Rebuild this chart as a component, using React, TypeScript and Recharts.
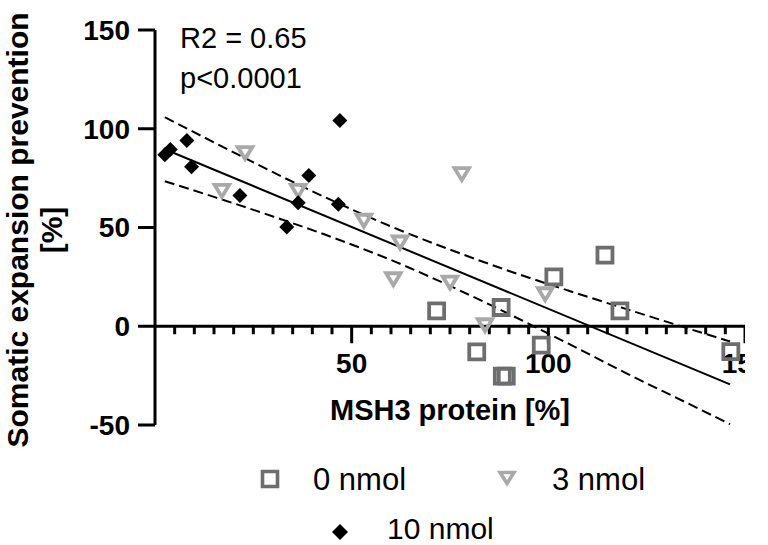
import React from 'react';
import { ComposedChart, Scatter, Line, XAxis, YAxis, ReferenceLine, Legend } from 'recharts';

// ---- data ----
const zeroNmol = [
  { x: 71.6, y: 7.8 },
  { x: 81.8, y: -13.0 },
  { x: 88.0, y: 9.5 },
  { x: 88.3, y: -25.3 },
  { x: 89.3, y: -25.3 },
  { x: 98.2, y: -9.6 },
  { x: 101.4, y: 25.0 },
  { x: 114.4, y: 36.0 },
  { x: 118.2, y: 7.8 },
  { x: 146.4, y: -12.8 },
];

const threeNmol = [
  { x: 17.0, y: 68.0 },
  { x: 22.9, y: 87.2 },
  { x: 36.4, y: 68.0 },
  { x: 53.1, y: 52.9 },
  { x: 60.6, y: 23.3 },
  { x: 62.3, y: 41.9 },
  { x: 75.0, y: 21.6 },
  { x: 78.0, y: 76.5 },
  { x: 83.9, y: 0.0 },
  { x: 99.2, y: 15.7 },
];

const tenNmol = [
  { x: 2.5, y: 86.8 },
  { x: 3.9, y: 89.5 },
  { x: 8.1, y: 94.0 },
  { x: 9.3, y: 80.7 },
  { x: 21.6, y: 66.2 },
  { x: 33.5, y: 50.3 },
  { x: 36.4, y: 62.5 },
  { x: 39.1, y: 76.3 },
  { x: 46.6, y: 61.8 },
  { x: 47.0, y: 104.2 },
];

const regressionLine = [
  { x: 2.5, y: 89.6 },
  { x: 146.2, y: -29.4 },
];

const upperBand = [
  { x: 2.5, y: 105.8 },
  { x: 15, y: 93.1 },
  { x: 30, y: 78.0 },
  { x: 45, y: 63.7 },
  { x: 61, y: 49.7 },
  { x: 75, y: 38.8 },
  { x: 90, y: 28.0 },
  { x: 105, y: 18.1 },
  { x: 120, y: 8.6 },
  { x: 135, y: -0.8 },
  { x: 146.2, y: -7.7 },
];

const lowerBand = [
  { x: 2.5, y: 73.4 },
  { x: 15, y: 65.5 },
  { x: 30, y: 55.6 },
  { x: 45, y: 45.1 },
  { x: 61, y: 32.7 },
  { x: 75, y: 20.4 },
  { x: 90, y: 6.2 },
  { x: 105, y: -8.7 },
  { x: 120, y: -24.0 },
  { x: 135, y: -38.6 },
  { x: 146.2, y: -49.6 },
];

const yTicks = [-50, 0, 50, 100, 150];
const xMajorTicks = [50, 100, 150];
const xMinorTicks = [5, 10, 15, 20, 25, 30, 35, 40, 45, 55, 60, 65, 70, 75, 80, 85, 90, 95,
  105, 110, 115, 120, 125, 130, 135, 140, 145];

const seriesNames = ['0 nmol', '3 nmol', '10 nmol'];
const xTitle = 'MSH3 protein [%]';
const yTitleLines = ['Somatic expansion prevention', '[%]'];
const statLines = ['R2 = 0.65', 'p<0.0001'];

const axisTickData = [
  ...xMinorTicks.map((v) => ({ x: v, y: 0, major: false })),
  ...xMajorTicks.map((v) => ({ x: v, y: 0, major: true })),
];

const FONT = '"Liberation Sans", Arial, Helvetica, sans-serif';
const SQUARE_COLOR = '#6e6e6e';
const TRI_COLOR = '#a9a9a9';

const squarePath = (cx: number, cy: number, s: number) =>
  `M${cx - s / 2},${cy - s / 2}H${cx + s / 2}V${cy + s / 2}H${cx - s / 2}Z`;
const triPath = (cx: number, cy: number, w: number, h: number) =>
  `M${cx - w / 2},${cy - h / 2}L${cx + w / 2},${cy - h / 2}L${cx},${cy + h / 2}Z`;
const diamondPath = (cx: number, cy: number, r: number) =>
  `M${cx},${cy - r}L${cx + r},${cy}L${cx},${cy + r}L${cx - r},${cy}Z`;

const SquareShape = (p: any) => (
  <path d={squarePath(p.cx, p.cy, 15)} fill="none" stroke={SQUARE_COLOR} strokeWidth={3.8} />
);
const TriShape = (p: any) => (
  <path d={triPath(p.cx, p.cy - 1, 14.5, 12)} fill="none" stroke={TRI_COLOR} strokeWidth={3.8} strokeLinejoin="miter" />
);
const DiamondShape = (p: any) => <path d={diamondPath(p.cx, p.cy, 7.5)} fill="#000" />;

const AxisTickShape = (p: any) => {
  const major = p.payload && p.payload.major;
  return (
    <g>
      <line x1={p.cx} x2={p.cx} y1={p.cy} y2={p.cy + (major ? 17 : 8)} stroke="#000" strokeWidth={3} />
      {major && (
        <text x={p.cx} y={p.cy + 47} textAnchor="middle" fontFamily={FONT} fontWeight="bold" fontSize={28} fill="#000">
          {p.payload.x}
        </text>
      )}
    </g>
  );
};

const LegendContent = () => (
  <svg width={768} height={90} style={{ display: 'block' }}>
    <path d={squarePath(270, 24, 15)} fill="none" stroke={SQUARE_COLOR} strokeWidth={3.6} />
    <text x={313} y={35} fontFamily={FONT} fontSize={31} fill="#000">{seriesNames[0]}</text>
    <path d={triPath(507, 23, 14, 11)} fill="none" stroke={TRI_COLOR} strokeWidth={3.6} />
    <text x={552} y={35} fontFamily={FONT} fontSize={31} fill="#000">{seriesNames[1]}</text>
    <path d={diamondPath(340, 77, 8)} fill="#000" />
    <text x={387} y={84} fontFamily={FONT} fontSize={30} fill="#000">{seriesNames[2]}</text>
  </svg>
);

export default function App() {
  return (
    <div style={{ position: 'absolute', left: 0, top: 0, width: 768, height: 545, background: '#fff' }}>
      <ComposedChart width={768} height={545} margin={{ top: 30, right: 23, bottom: 120, left: 0 }}>
        <XAxis type="number" dataKey="x" domain={[0, 150]} allowDataOverflow hide />
        <YAxis
          type="number"
          dataKey="y"
          domain={[-50, 150]}
          ticks={yTicks}
          allowDataOverflow
          width={155}
          axisLine={{ stroke: '#000', strokeWidth: 3 }}
          tickLine={{ stroke: '#000', strokeWidth: 3 }}
          tickSize={17}
          tickMargin={8}
          tick={{ fontFamily: FONT, fontWeight: 'bold', fontSize: 28, fill: '#000' }}
        />
        <ReferenceLine y={0} stroke="#000" strokeWidth={3} />
        <Line data={upperBand} dataKey="y" type="monotone" dot={false} stroke="#000" strokeWidth={2}
          strokeDasharray="10 5" isAnimationActive={false} legendType="none" />
        <Line data={lowerBand} dataKey="y" type="monotone" dot={false} stroke="#000" strokeWidth={2}
          strokeDasharray="10 5" isAnimationActive={false} legendType="none" />
        <Line data={regressionLine} dataKey="y" type="linear" dot={false} stroke="#000" strokeWidth={2}
          isAnimationActive={false} legendType="none" />
        <Scatter data={axisTickData} dataKey="y" shape={AxisTickShape} isAnimationActive={false} legendType="none" />
        <Scatter name={seriesNames[0]} data={zeroNmol} dataKey="y" shape={SquareShape} isAnimationActive={false} />
        <Scatter name={seriesNames[1]} data={threeNmol} dataKey="y" shape={TriShape} isAnimationActive={false} />
        <Scatter name={seriesNames[2]} data={tenNmol} dataKey="y" shape={DiamondShape} isAnimationActive={false} />
        <Legend
          layout="horizontal"
          verticalAlign="middle"
          align="center"
          content={LegendContent}
          wrapperStyle={{ position: 'absolute', top: 455, left: 0, width: 768, height: 90 }}
        />
      </ComposedChart>
      <svg width={768} height={545} style={{ position: 'absolute', left: 0, top: 0, pointerEvents: 'none' }}>
        <text x={180} y={48} fontFamily={FONT} fontSize={29} fill="#000">{statLines[0]}</text>
        <text x={180} y={88} fontFamily={FONT} fontSize={29} fill="#000">{statLines[1]}</text>
        <text x={450} y={420} textAnchor="middle" fontFamily={FONT} fontWeight="bold" fontSize={29} fill="#000">{xTitle}</text>
        <text transform="translate(28,230) rotate(-90)" textAnchor="middle" fontFamily={FONT} fontWeight="bold" fontSize={30} fill="#000">{yTitleLines[0]}</text>
        <text transform="translate(62,230) rotate(-90)" textAnchor="middle" fontFamily={FONT} fontWeight="bold" fontSize={30} fill="#000">{yTitleLines[1]}</text>
      </svg>
    </div>
  );
}
